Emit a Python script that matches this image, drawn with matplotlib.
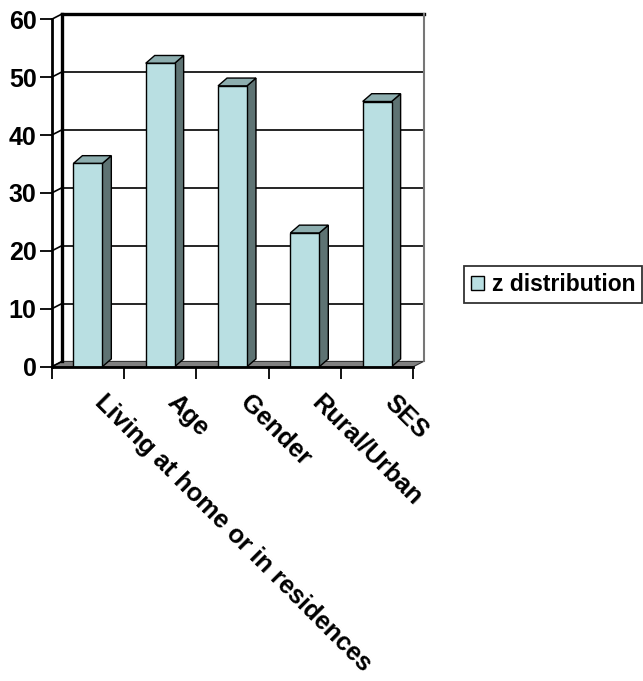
import matplotlib
matplotlib.use("Agg")
import matplotlib.pyplot as plt
from matplotlib.patches import Polygon
from matplotlib.transforms import ScaledTranslation, blended_transform_factory

categories = ["Living at home or in residences", "Age", "Gender",
              "Rural/Urban", "SES"]
z_values = [35.1, 52.4, 48.5, 23.1, 45.8]
y_ticks = [0, 10, 20, 30, 40, 50, 60]
series_name = "z distribution"

FRONT = "#b9dfe2"
SIDE = "#5e7373"
TOP = "#8daeaf"
FLOOR = "#808080"

plt.rcParams["font.family"] = ["Liberation Sans", "DejaVu Sans"]
plt.rcParams["font.weight"] = "bold"

fig = plt.figure(figsize=(6.43, 6.81), dpi=100)
ax = fig.add_axes([0.0804, 0.4615, 0.5624, 0.5102])
n = len(categories)
ax.set_xlim(0, n)
ax.set_ylim(0, y_ticks[-1])

# pseudo-3d depth, given in pixels and turned into data units
px_x = ax.bbox.width / n
px_y = ax.bbox.height / y_ticks[-1]
wdx, wdy = 10.3 / px_x, 5.3 / px_y      # walls / floor
bdx, bdy = 9.0 / px_x, 7.8 / px_y       # column depth
ymax = y_ticks[-1]

# floor
ax.add_patch(Polygon([(0, 0), (n, 0), (n + wdx, wdy), (wdx, wdy)],
                     closed=True, fc=FLOOR, ec="#333333", lw=0.8,
                     clip_on=False, zorder=1))
# back wall gridlines
for v in y_ticks[1:-1]:
    ax.plot([wdx, n + wdx], [v + wdy, v + wdy], color="black", lw=1.2,
            clip_on=False, zorder=1)
ax.plot([wdx, n + wdx], [ymax + wdy, ymax + wdy], color="black", lw=2.4,
        clip_on=False, zorder=1)
ax.plot([wdx, wdx], [wdy, ymax + wdy], color="black", lw=2.4,
        clip_on=False, zorder=1)
ax.plot([n + wdx, n + wdx], [wdy, ymax + wdy], color="#777777", lw=1.5,
        clip_on=False, zorder=1)
# left wall: slanted lines at each tick
for v in y_ticks:
    ax.plot([0, wdx], [v, v + wdy], color="black", lw=1.2,
            clip_on=False, zorder=1)

# columns
w = 0.4
xs = [i + 0.5 for i in range(n)]
bars = ax.bar(xs, z_values, width=w, color=FRONT, edgecolor="black",
              lw=1.0, zorder=4, label=series_name)
for x, v in zip(xs, z_values):
    r, l = x + w / 2, x - w / 2
    ax.add_patch(Polygon([(r, 0), (r + bdx, bdy), (r + bdx, v + bdy), (r, v)],
                         closed=True, fc=SIDE, ec="black", lw=1.0,
                         clip_on=False, zorder=3))
    ax.add_patch(Polygon([(l, v), (l + bdx, v + bdy), (r + bdx, v + bdy),
                          (r, v)],
                         closed=True, fc=TOP, ec="black", lw=1.0,
                         clip_on=False, zorder=3))

# front axes
for side in ("top", "right"):
    ax.spines[side].set_visible(False)
for side in ("left", "bottom"):
    ax.spines[side].set_linewidth(2.0)
    ax.spines[side].set_zorder(5)
ax.set_yticks(y_ticks)
ax.set_xticks(range(n + 1))
ax.set_xticklabels([])
ax.tick_params(axis="both", direction="out", length=8.4, width=1.3)
ax.tick_params(axis="y", labelsize=18, pad=2.5)
for t in ax.get_yticklabels():
    t.set_fontweight("bold")

trans = blended_transform_factory(ax.transData, ax.transAxes) + \
    ScaledTranslation(14 / 72, -17 / 72, fig.dpi_scale_trans)
for x, name in zip(xs, categories):
    ax.text(x, 0, name, transform=trans, rotation=-45,
            rotation_mode="anchor", ha="left", va="top",
            fontsize=18.3, fontweight="bold")

leg = ax.legend(handles=[bars], loc="upper left",
                bbox_to_anchor=(464 / 643, 1 - 266 / 681),
                bbox_transform=fig.transFigure, frameon=True, fancybox=False,
                edgecolor="black", borderaxespad=0, borderpad=0.3,
                handlelength=0.57, handleheight=0.57, handletextpad=0.35,
                prop={"size": 16.5, "weight": "bold"})
leg.get_frame().set_linewidth(1.3)

fig.savefig("out.png", dpi=100)
